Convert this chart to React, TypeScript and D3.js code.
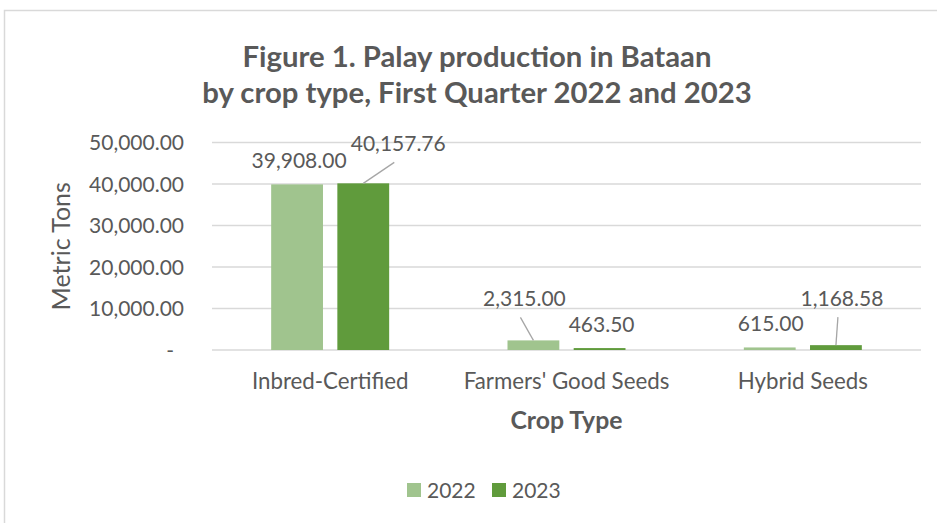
import React from "react";
import * as d3 from "d3";

const categories = ["Inbred-Certified", "Farmers' Good Seeds", "Hybrid Seeds"];
const seriesNames = ["2022", "2023"];
const values2022 = [39908.0, 2315.0, 615.0];
const values2023 = [40157.76, 463.5, 1168.58];
const yTicks = [0, 10000, 20000, 30000, 40000, 50000];
const titleLines = ["Figure 1. Palay production in Bataan", "by crop type, First Quarter 2022 and 2023"];

// label layout adjustments (dx, dy from bar top center; leader flag)
const labelAdjust2022 = [
  { dx: 2, dy: -16, leader: false },
  { dx: -9, dy: -34, leader: true },
  { dx: 1, dy: -16, leader: false },
];
const labelAdjust2023 = [
  { dx: 35, dy: -32, leader: true },
  { dx: 2, dy: -16, leader: false },
  { dx: 6, dy: -39, leader: true },
];

const colors = ["#a0c48e", "#609b3c"];
const textColor = "#595959";
const FONT = "Lato, 'Open Sans', sans-serif";

export default function App() {
  const W = 937, H = 523;
  const plotLeft = 212, plotRight = 921, plotTop = 142.5, plotBottom = 350;
  const x = d3.scaleBand<string>().domain(categories).range([plotLeft, plotRight]).paddingInner(0).paddingOuter(0);
  const bw = x.bandwidth();
  const groupPad = (bw - 118) / 2;
  const xs = d3.scaleBand<string>().domain(seriesNames).range([groupPad, bw - groupPad]).paddingInner(0.217).paddingOuter(0);
  const y = d3.scaleLinear().domain([0, 50000]).range([plotBottom, plotTop]);
  const fmt = d3.format(",.2f");
  const series = [values2022, values2023];
  const adjusts = [labelAdjust2022, labelAdjust2023];

  return (
    <svg width={W} height={H} style={{ position: "absolute", left: 0, top: 0, background: "#fff" }} fontFamily={FONT}>
      <rect x={4.5} y={10.5} width={1200} height={1200} fill="#fff" stroke="#d9d9d9" strokeWidth={1.5} />
      {titleLines.map((t, i) => (
        <text key={i} x={477} y={67 + i * 36} textAnchor="middle" fontSize={29.3} fontWeight="bold" fill={textColor}>{t}</text>
      ))}
      {yTicks.map((t) => (
        <g key={t}>
          <line x1={plotLeft} x2={plotRight} y1={y(t)} y2={y(t)} stroke="#d9d9d9" strokeWidth={1.5} />
          <text x={t === 0 ? 174 : 184} y={y(t) + 7.5} textAnchor="end" fontSize={21} fill={textColor}>{t === 0 ? "-" : fmt(t)}</text>
        </g>
      ))}
      <text transform={`translate(70,${(plotTop + plotBottom) / 2}) rotate(-90)`} textAnchor="middle" fontSize={25} fill={textColor}>Metric Tons</text>
      {series.map((vals, si) =>
        vals.map((v, ci) => {
          const bx = (x(categories[ci]) as number) + (xs(seriesNames[si]) as number);
          const by = y(v);
          return <rect key={`${si}-${ci}`} x={bx} y={by} width={xs.bandwidth()} height={plotBottom - by} fill={colors[si]} />;
        })
      )}
      {series.map((vals, si) =>
        vals.map((v, ci) => {
          const cx = (x(categories[ci]) as number) + (xs(seriesNames[si]) as number) + xs.bandwidth() / 2;
          const by = y(v);
          const a = adjusts[si][ci];
          const lx = cx + a.dx, ly = by + a.dy;
          return (
            <g key={`l${si}-${ci}`}>
              {a.leader && <line x1={cx} y1={by} x2={lx - 4} y2={ly + 11} stroke="#a6a6a6" strokeWidth={1.3} />}
              <text x={lx} y={ly} textAnchor="middle" fontSize={21} fill={textColor}>{fmt(v)}</text>
            </g>
          );
        })
      )}
      {categories.map((c) => (
        <text key={c} x={(x(c) as number) + bw / 2} y={389} textAnchor="middle" fontSize={22.3} fill={textColor}>{c}</text>
      ))}
      <text x={(plotLeft + plotRight) / 2} y={429} textAnchor="middle" fontSize={24.8} fontWeight="bold" fill={textColor}>Crop Type</text>
      {seriesNames.map((s, i) => (
        <g key={s} transform={`translate(${407 + i * 85},483)`}>
          <rect x={0} y={0} width={14} height={14} fill={colors[i]} />
          <text x={20} y={14.5} fontSize={21} fill={textColor}>{s}</text>
        </g>
      ))}
    </svg>
  );
}
